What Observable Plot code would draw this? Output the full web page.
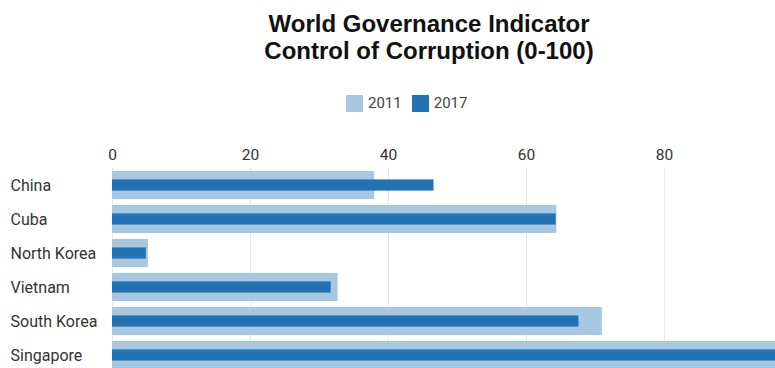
<!DOCTYPE html>
<html>
<head>
<meta charset="utf-8">
<script src="https://cdn.jsdelivr.net/npm/d3@7"></script>
<script src="https://cdn.jsdelivr.net/npm/@observablehq/plot@0.6"></script>
<style>
  html, body { margin: 0; padding: 0; background: #fff; overflow: hidden; }
  #wrap { position: relative; width: 775px; height: 368px; overflow: hidden; }
  #title { position: absolute; left: 0; width: 858px; top: 10px; text-align: center;
    font-family: "Liberation Sans", Arial, sans-serif; font-weight: bold; font-size: 24px; line-height: 27px; color: #111; }
  #legend { position: absolute; top: 94px; left: 346px; font-family: Roboto, sans-serif; font-size: 15px; color: #444;
    display: flex; align-items: center; white-space: nowrap; }
  #legend .sw { display: inline-block; width: 17px; height: 17px; margin-right: 5px; }
  #legend .item { display: flex; align-items: center; margin-right: 10px; }
  #chart { position: absolute; left: 0; top: 135px; line-height: 0; }
</style>
</head>
<body>
<div id="wrap">
  <div id="title">World Governance Indicator<br>Control of Corruption (0-100)</div>
  <div id="legend"></div>
  <div id="chart"></div>
</div>
<script>
const countries = ["China", "Cuba", "North Korea", "Vietnam", "South Korea", "Singapore"];
const values2011 = [38.0, 64.4, 5.2, 32.7, 71.0, 97.1];
const values2017 = [46.6, 64.3, 4.9, 31.7, 67.6, 97.6];
const seriesNames = ["2011", "2017"];
const seriesColors = ["#a7c8e0", "#2272b4"];
const tickValues = [0, 20, 40, 60, 80];

const legend = document.getElementById("legend");
seriesNames.forEach((s, i) => {
  const it = document.createElement("span");
  it.className = "item";
  it.innerHTML = `<span class="sw" style="background:${seriesColors[i]}"></span>${s}`;
  legend.appendChild(it);
});

const rows = countries.map((c, i) => ({country: c, v2011: values2011[i], v2017: values2017[i]}));

const chart = Plot.plot({
  width: 775,
  height: 238.5,
  marginLeft: 112,
  marginRight: 0,
  marginTop: 32.5,
  marginBottom: 0,
  style: {background: "transparent", overflow: "hidden"},
  x: {domain: [0, 96.09], axis: null},
  y: {domain: countries, paddingInner: 0.17, paddingOuter: 0.085, axis: null},
  marks: [
    Plot.ruleX(tickValues, {stroke: "#e6e6e6", strokeWidth: 1}),
    Plot.barX(rows, {y: "country", x: "v2011", fill: seriesColors[0]}),
    Plot.barX(rows, {y: "country", x: "v2017", fill: seriesColors[1], insetTop: 8.4, insetBottom: 8.4}),
    Plot.text(tickValues, {x: d => d, frameAnchor: "top", lineAnchor: "middle", dy: -12.5, fontSize: 15.5, fill: "#333",
      fontFamily: "Roboto, sans-serif", textAnchor: d => d === 0 ? "start" : "middle"}),
    Plot.text(rows, {y: "country", text: "country", frameAnchor: "left", lineAnchor: "middle", dx: -102, textAnchor: "start",
      fontSize: 16, fill: "#333", fontFamily: "Roboto, sans-serif"})
  ]
});
document.getElementById("chart").appendChild(chart);
</script>
</body>
</html>
